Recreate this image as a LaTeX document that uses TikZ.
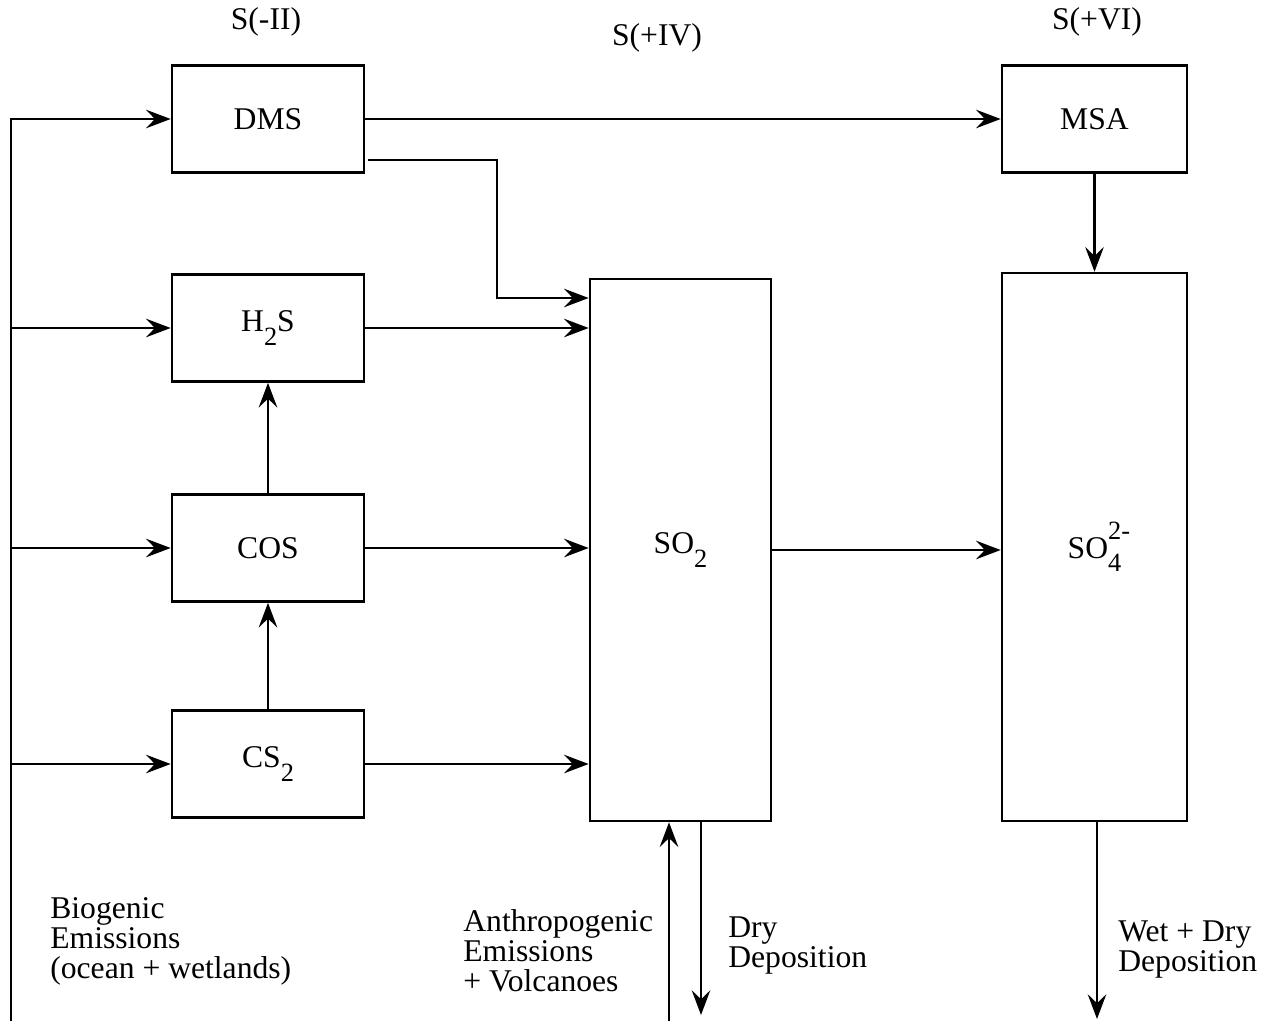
\documentclass[tikz,border=0pt]{standalone}
\usepackage{fontspec}
\setmainfont{Liberation Serif}
\usetikzlibrary{arrows.meta, calc}
\newcommand{\chemsub}[1]{\raisebox{-7.5pt}{\fontsize{15}{15}\selectfont #1}}
\newcommand{\chemsup}[1]{\raisebox{11pt}{\fontsize{15}{15}\selectfont #1}}

\begin{document}
\begin{tikzpicture}[
    x=0.02cm, y=-0.02cm,
    every node/.style={font=\fontsize{18}{17.2}\selectfont},
    arr/.style={-{Stealth[length=14pt, width=10.5pt, inset=5pt]}, line width=1.5pt},
    species/.style={rectangle, draw, line width=1.5pt, minimum width=3.84cm, minimum height=2.14cm, inner sep=0pt},
    pool/.style={rectangle, draw, line width=1.5pt, inner sep=0pt},
    lab/.style={anchor=north west, align=left, inner sep=0pt},
    state/.style={inner sep=0pt},
]
\useasboundingbox (0,0) rectangle (1270,1021);

% ================================================================ oxidation states
\node[state] (s2) at (266, 22) {S(-II)};
\node[state] (s4) at (657, 38) {S(+IV)};
\node[state] (s6) at (1097, 22) {S(+VI)};

% ================================================================ reduced species
\node[species] (dms) at (268, 119) {DMS};
\node[species] (hts) at (268, 328) {H\chemsub{2}S};
\node[species] (cos) at (268, 548) {COS};
\node[species] (css) at (268, 764) {CS\chemsub{2}};

% ================================================================ oxidised pools
\node[pool, minimum width=3.62cm, minimum height=10.84cm] (sot) at (680.5, 550) {SO\chemsub{2}};
\node[species, minimum width=3.70cm] (msa) at (1094.5, 119) {MSA};
\node[pool, minimum width=3.70cm, minimum height=10.96cm] (sof) at (1094.5, 547)
    {SO\rlap{\chemsup{2-}}\chemsub{4}};

% ================================================================ biogenic sources
\coordinate (bio) at (11, 1021);
\draw[arr] (bio) |- (dms.west);
\foreach \n in {hts, cos, css}{
    \draw[arr] (bio |- \n.west) -- (\n.west);
}
\node[lab] (biolab) at (50, 897) {Biogenic\\Emissions\\(ocean + wetlands)};

% ================================================================ conversions
\draw[arr] (dms.east) -- (msa.west);
\coordinate (kink) at (497, 298);
\draw[arr] ([shift={(3,41)}]dms.east) -| (kink) -- (kink -| sot.west);
\draw[arr] (css.north) -- (cos.south);
\draw[arr] (cos.north) -- (hts.south);
\foreach \n in {hts, cos, css}{
    \draw[arr] (\n.east) -- (\n.east -| sot.west);
}
\draw[arr] (sot.east) -- (sot.east -| sof.west);
\draw[arr] (msa.south) -- (msa.south |- sof.north);

% ================================================================ sources and sinks below
\coordinate (anthro) at (669, 1021);
\coordinate (dry) at (701, 1015);
\coordinate (wet) at (1097, 1019);
\draw[arr] (anthro) -- (anthro |- sot.south);
\draw[arr] (dry |- sot.south) -- (dry);
\draw[arr] (wet |- sof.south) -- (wet);
\node[lab] (anthrolab) at (463, 909) {Anthropogenic\\Emissions\\+ Volcanoes};
\node[lab] (drylab) at (728, 916) {Dry\\Deposition};
\node[lab] (wetlab) at (1118, 920) {Wet + Dry\\Deposition};

\end{tikzpicture}
\end{document}
